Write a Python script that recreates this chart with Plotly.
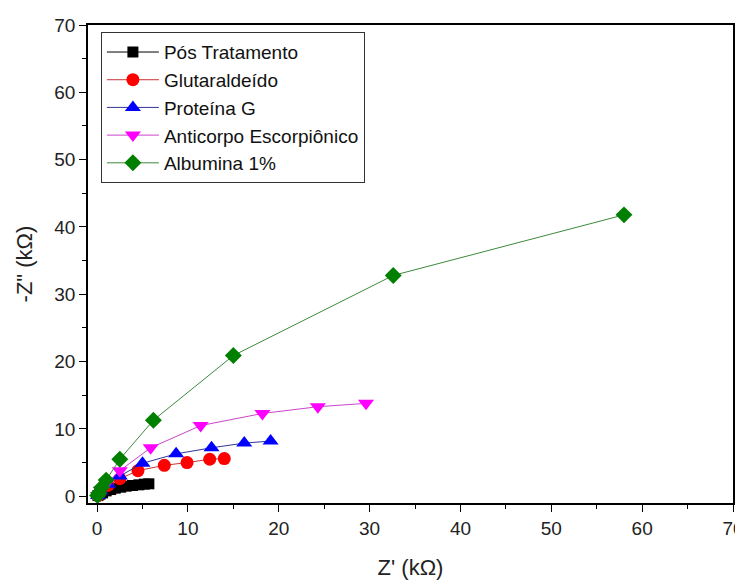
import plotly.graph_objects as go

names = ["Pós Tratamento", "Glutaraldeído", "Proteína G", "Anticorpo Escorpiônico", "Albumina 1%"]

pos_x = [0.1, 0.3, 0.6, 1.0, 1.5, 2.0, 2.6, 3.2, 3.9, 4.6, 5.2, 5.7]
pos_y = [0.1, 0.3, 0.5, 0.8, 1.0, 1.2, 1.35, 1.5, 1.6, 1.7, 1.8, 1.85]

glu_x = [0.1, 0.4, 1.2, 2.5, 4.5, 7.4, 9.9, 12.4, 14.0]
glu_y = [0.1, 0.7, 1.6, 2.6, 3.8, 4.6, 5.0, 5.5, 5.6]

prot_x = [0.1, 0.4, 1.2, 2.5, 5.0, 8.7, 12.6, 16.2, 19.1]
prot_y = [0.1, 0.8, 1.8, 3.0, 4.9, 6.3, 7.2, 7.9, 8.2]

anti_x = [0.1, 0.4, 1.1, 2.5, 5.9, 11.4, 18.2, 24.3, 29.6]
anti_y = [0.1, 0.9, 2.0, 3.8, 7.2, 10.5, 12.3, 13.3, 13.8]

alb_x = [0.05, 0.2, 0.5, 1.0, 2.5, 6.2, 15.0, 32.6, 58.0]
alb_y = [0.1, 0.5, 1.3, 2.4, 5.5, 11.3, 20.9, 32.8, 41.8]

colors = ["#000000", "#ff0000", "#0000ff", "#ff00ff", "#007f00"]
lcolors = ["#000000", "#cc3333", "#333399", "#cc44cc", "#3d8a3d"]
symbols = ["square", "circle", "triangle-up", "triangle-down", "diamond"]
sizes = [11, 13, 14, 14, 13]

xs = [pos_x, glu_x, prot_x, anti_x, alb_x]
ys = [pos_y, glu_y, prot_y, anti_y, alb_y]

fig = go.Figure()
for i in range(5):
    fig.add_trace(go.Scatter(
        x=xs[i], y=ys[i], mode="lines+markers", name=names[i],
        line=dict(color=lcolors[i], width=1),
        marker=dict(symbol=symbols[i], color=colors[i], size=sizes[i],
                    line=dict(width=0)),
    ))

FONT = "Liberation Sans, Arial, sans-serif"
axis_common = dict(
    showgrid=False, zeroline=False, showline=True, linecolor="black",
    linewidth=1.5, mirror=True, ticks="outside", ticklen=7, tickwidth=1.2,
    tickcolor="black", dtick=10, automargin=False, ticklabeloverflow="allow",
    tickfont=dict(family=FONT, size=19, color="#222"),
    minor=dict(ticks="outside", ticklen=4, dtick=5, tickcolor="black", tickwidth=1.2),
)

# page body has an 8px margin, so the figure is 8px smaller and shifted
fig.update_layout(
    width=735, height=573,
    margin=dict(l=80, r=10, t=17, b=78),
    paper_bgcolor="white", plot_bgcolor="white",
    font=dict(family=FONT, color="#222"),
    xaxis=dict(range=[-1, 70], title=dict(text="Z' (kΩ)", font=dict(size=22), standoff=22), **axis_common),
    yaxis=dict(range=[-1, 70], title=dict(text='-Z" (kΩ)', font=dict(size=22), standoff=16), **axis_common),
    legend=dict(x=0.02, y=0.985, xanchor="left", yanchor="top",
                bordercolor="#333", borderwidth=1, bgcolor="white",
                font=dict(size=19, color="#111"), tracegroupgap=0, itemwidth=52),
    showlegend=True,
)

fig.write_html("out.html")
